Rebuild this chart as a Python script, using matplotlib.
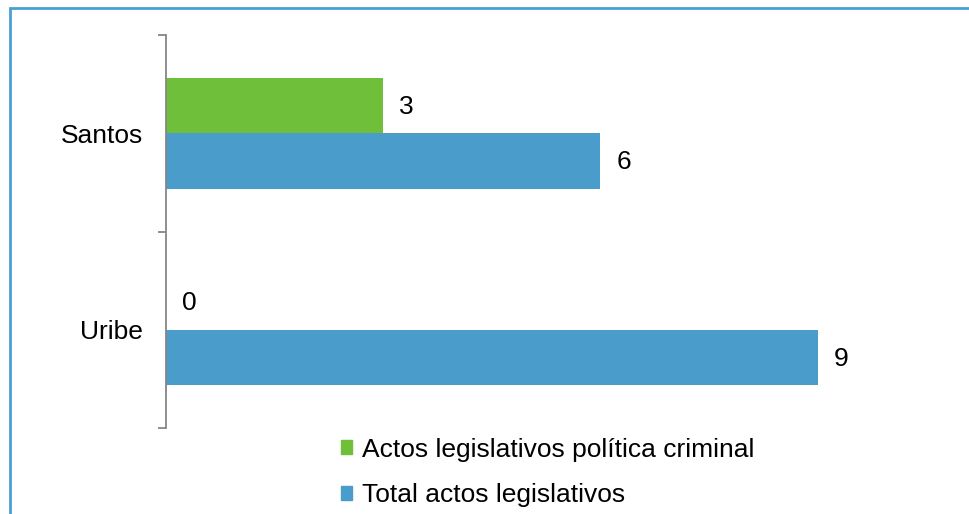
import matplotlib.pyplot as plt
import matplotlib as mpl
from matplotlib.patches import Patch, Rectangle
import numpy as np

mpl.rcParams['font.family'] = ['Liberation Sans', 'DejaVu Sans']

# data
categories = ["Uribe", "Santos"]
criminal = [0, 3]
total = [9, 6]
series_names = ["Actos legislativos política criminal", "Total actos legislativos"]
green = "#6fbf3a"
blue = "#4a9ccb"

fig = plt.figure(figsize=(9.7, 5.14), dpi=100)
ax = fig.add_axes([166/970, 1-428/514, 724/970, 393/514])

y = np.arange(len(categories))
h = 0.283
b1 = ax.barh(y + h/2, criminal, height=h, color=green)
b2 = ax.barh(y - h/2, total, height=h, color=blue)

for bars in (b1, b2):
    for rect in bars:
        w = rect.get_width()
        ax.annotate(str(int(w)), (w, rect.get_y() + rect.get_height()/2),
                    xytext=(11.5, -1), textcoords="offset points",
                    ha="left", va="center", fontsize=19)

ax.set_xlim(0, 10)
ax.set_ylim(-0.5, 1.5)
ax.set_xticks([])
for s in ["top", "right", "bottom"]:
    ax.spines[s].set_visible(False)
ax.spines["left"].set_color("#868686")
ax.spines["left"].set_linewidth(1.3)

# ticks at category boundaries, labels at centers
ax.set_yticks([-0.5, 0.5, 1.5])
ax.set_yticklabels([])
ax.tick_params(axis="y", which="major", length=6, width=1.3, color="#868686")
ax.set_yticks(y, minor=True)
ax.set_yticklabels(categories, minor=True, fontsize=19)
ax.tick_params(axis="y", which="minor", length=0, pad=16.5)

handles = [Patch(color=green), Patch(color=blue)]
fig.legend(handles, series_names, loc="upper left", bbox_to_anchor=(330/970, 1-427/514),
           frameon=False, fontsize=19, handlelength=0.45, handleheight=0.45,
           handletextpad=0.38, labelspacing=0.82, borderaxespad=0)

# outer border
fig.patches.append(Rectangle((10.5/970, -0.1), 1.2, 1.1 - 8.5/514, transform=fig.transFigure,
                             fill=False, edgecolor="#4a9fd4", linewidth=2))

plt.savefig("out.png", dpi=100)
